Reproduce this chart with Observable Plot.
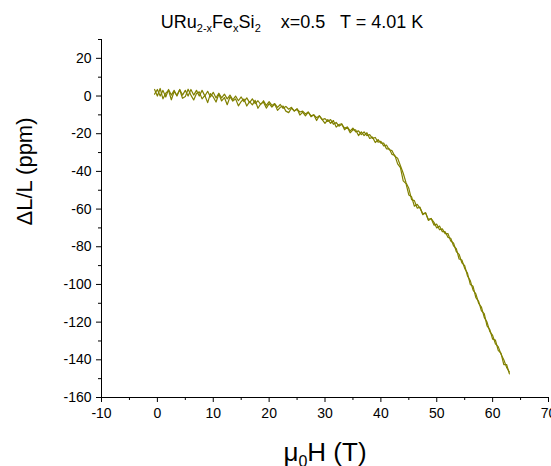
<!DOCTYPE html>
<html><head><meta charset="utf-8">
<script src="https://cdn.jsdelivr.net/npm/d3@7"></script>
<script src="https://cdn.jsdelivr.net/npm/@observablehq/plot@0.6"></script>
<style>
html,body{margin:0;padding:0;background:#fff;overflow:hidden;}
#title{height:31px;box-sizing:border-box;padding-top:13px;padding-left:33px;width:551px;text-align:center;font:18px/18px "Liberation Sans",Arial,sans-serif;white-space:pre;color:#000;}
#title sub{font-size:11px;vertical-align:-4px;line-height:0}
</style></head><body>
<div id="title">URu<sub>2-x</sub>Fe<sub>x</sub>Si<sub>2</sub>    x=0.5   T = 4.01 K</div>
<div id="chart"></div>
<script>
const xTicks = [-10, 0, 10, 20, 30, 40, 50, 60, 70];
const xMinorTicks = [-5, 5, 15, 25, 35, 45, 55, 65];
const yTicks = [-160, -140, -120, -100, -80, -60, -40, -20, 0, 20];
const yMinorTicks = [-150, -130, -110, -90, -70, -50, -30, -10, 10, 30];
const xLabel = "μ0H (T)";
const yLabel = "ΔL/L (ppm)";

// up sweep (field in T, strain in ppm)
const upField = [-0.5, 0, 0.5, 1, 1.5, 2, 2.5, 3, 3.5, 4, 4.5, 5, 5.5, 6, 6.5, 7, 7.5, 8, 8.5, 9, 9.5,
  10, 10.5, 11, 11.5, 12, 12.5, 13, 13.5, 14, 14.5, 15, 15.5, 16, 16.5, 17, 17.5, 18, 18.5, 19, 19.5,
  20, 20.5, 21, 21.5, 22, 22.5, 23, 23.5, 24, 24.5, 25, 25.5, 26, 26.5, 27, 27.5, 28, 28.5, 29, 29.5,
  30, 30.5, 31, 31.5, 32, 32.5, 33, 33.5, 34, 34.5, 35, 35.5, 36, 36.5, 37, 37.5, 38, 38.5, 39, 39.5,
  40, 40.5, 41, 41.5, 42, 42.5, 43, 43.5, 44, 44.5, 45, 45.5, 46, 46.5, 47, 47.5, 48, 48.5, 49, 49.5,
  50, 50.5, 51, 51.5, 52, 52.5, 53, 53.5, 54, 54.5, 55, 55.5, 56, 56.5, 57, 57.5, 58, 58.5, 59, 59.5,
  60, 60.5, 61, 61.5, 62, 62.5, 63];
const upStrain = [3.5, 0, 4, -1.5, 1.5, 3, -2, 2.4, 0.4, 3.3, -1.2, -0.3, 3.6, 0.5, -2.1, 1.3, 2.2, -1.5, 0.3, -3.5, 1.3,
  -0.5, -3.2, 1.1, -2.6, -0.8, -4.6, -0.4, -2.7, -1.5, -5.2, -2.9, -1.6, -5.3, -3, -4.7, -2.3, -6.5, -4.1, -3.3, -6.4,
  -4, -5.9, -4.3, -7.6, -6, -5.3, -8, -8.8, -6.5, -7.9, -6.7, -10.1, -8.5, -10.5, -8.5, -11, -10, -13, -10.5, -12.5,
  -14.5, -12.5, -14.5, -13, -16.5, -15.1, -14.7, -17.9, -16.5, -19.5, -18, -18, -21, -19, -21, -19.5, -22.5, -21.8, -24.7, -23.1,
  -25, -25, -28, -28, -31, -31.5, -36, -38, -45, -46.5, -52.5, -53.5, -58.5, -57.5, -59.5, -62.5, -62, -66, -65, -67,
  -70, -69, -72, -72, -75, -75.5, -79.5, -81, -86.5, -87, -91.5, -94, -100, -101, -107, -109, -114, -115.5, -122, -124,
  -129, -129.5, -135, -136.5, -142.5, -142.5, -147.5];

// down sweep
const downField = [63, 62.5, 62, 61.5, 61, 60.5, 60, 59.5, 59, 58.5, 58, 57.5, 57, 56.5, 56, 55.5, 55, 54.5, 54, 53.5,
  53, 52.5, 52, 51.5, 51, 50.5, 50, 49.5, 49, 48.5, 48, 47.5, 47, 46.5, 46, 45.5, 45, 44.5, 44, 43.5,
  43, 42.5, 42, 41.5, 41, 40.5, 40, 39.5, 39, 38.5, 38, 37.5, 37, 36.5, 36, 35.5, 35, 34.5, 34, 33.5,
  33, 32.5, 32, 31.5, 31, 30.5, 30, 29.5, 29, 28.5, 28, 27.5, 27, 26.5, 26, 25.5, 25, 24.5, 24, 23.5,
  23, 22.5, 22, 21.5, 21, 20.5, 20, 19.5, 19, 18.5, 18, 17.5, 17, 16.5, 16, 15.5, 15, 14.5, 14, 13.5,
  13, 12.5, 12, 11.5, 11, 10.5, 10, 9.5, 9, 8.5, 8, 7.5, 7, 6.5, 6, 5.5, 5, 4.5, 4, 3.5,
  3, 2.5, 2, 1.5, 1, 0.5, 0, -0.5];
const downStrain = [-146.5, -144, -140, -137, -133, -131.5, -127, -125, -120, -117.5, -112, -110, -105, -103, -98, -95.5, -90, -88.5, -84, -82.5,
  -78, -77, -73, -73, -70.5, -71, -68, -68.5, -65, -65.5, -62, -63, -59, -59.5, -55.5, -55, -49, -46, -41, -37,
  -33, -32, -29, -28.5, -26, -26.5, -24, -24.5, -22, -22.5, -20.5, -21, -19, -20.5, -18.5, -19, -17, -18.5, -16.5, -17,
  -15, -16, -14, -15, -12.5, -13.5, -12, -12.5, -10.5, -11.5, -10, -10.5, -8.5, -9.5, -8, -8.5, -7, -8, -6, -7,
  -5.5, -6.5, -4.5, -6, -4, -5, -3, -5, -2.5, -4.5, -2.5, -4, -1.5, -3.5, -1, -3, -0.5, -2.5, 0, -2,
  0.5, -1.5, 1, -1, 1.5, -1, 2, -0.5, 2.5, 0, 3, 0, 3, 0.5, 3.5, 0, 3, 0.5, 3.5, 0,
  3, 0.5, 3.5, -0.5, 3, 0, 3.5, 1];

const rows = [
  ...upField.map((h, i) => ({h, s: upStrain[i], sweep: "up"})),
  ...downField.map((h, i) => ({h, s: downStrain[i], sweep: "down"}))
];

const font = '"Liberation Sans", Arial, sans-serif';
const plot = Plot.plot({
  width: 551, height: 435,
  marginLeft: 101, marginRight: 3, marginTop: 8, marginBottom: 69,
  style: {fontFamily: font, fontSize: "14px", color: "#000", background: "#fff", overflow: "visible"},
  x: {domain: [-10, 70]},
  y: {domain: [-160, 30]},
  marks: [
    Plot.line(rows, {x: "h", y: "s", z: "sweep", stroke: "#808000", strokeWidth: 1.2}),
    Plot.axisX({ticks: xTicks, tickSize: 5, tickPadding: 6, tickFormat: d => String(d), label: null, stroke: "#000"}),
    Plot.axisX({ticks: xMinorTicks, tickSize: 3, fill: "none", label: null, stroke: "#000"}),
    Plot.axisY({ticks: yTicks, tickSize: 5, tickPadding: 5, tickFormat: d => String(d), label: null, stroke: "#000"}),
    Plot.axisY({ticks: yMinorTicks, tickSize: 3, fill: "none", label: null, stroke: "#000"}),
    Plot.ruleX([-10], {stroke: "#000", strokeWidth: 1}),
    Plot.ruleY([-160], {stroke: "#000", strokeWidth: 1}),
    Plot.text([yLabel], {text: d => d, frameAnchor: "left", dx: -77, dy: 7, rotate: -90, fontSize: 22, fill: "#000"}),
    Plot.text([xLabel], {text: d => d, frameAnchor: "bottom", dy: 63, lineAnchor: "bottom", fontSize: 26, fill: "#000"})
  ]
});
document.getElementById("chart").appendChild(plot);

// subscript in the x label
d3.select(plot).selectAll("text").filter(function() { return this.textContent === xLabel; }).each(function() {
  const t = d3.select(this);
  t.text(null);
  t.append("tspan").text("μ");
  t.append("tspan").attr("font-size", "16").attr("dy", "6").text("0");
  t.append("tspan").attr("dy", "-6").text("H (T)");
});
</script>
</body></html>
